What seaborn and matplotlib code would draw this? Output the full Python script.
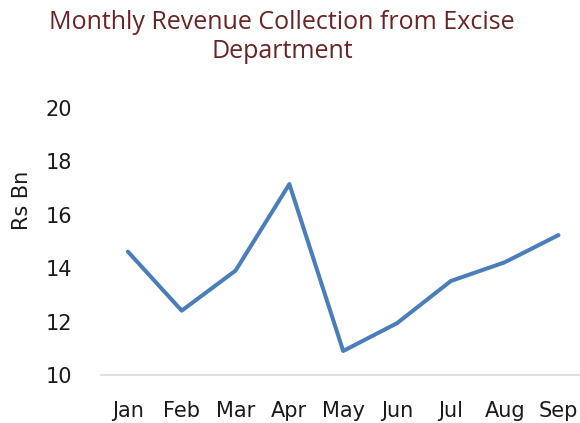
import matplotlib
matplotlib.use("Agg")
import matplotlib.pyplot as plt
import seaborn as sns
import pandas as pd

months = ["Jan", "Feb", "Mar", "Apr", "May", "Jun", "Jul", "Aug", "Sep"]
revenue = [14.62, 12.41, 13.91, 17.15, 10.90, 11.94, 13.52, 14.22, 15.24]
yticks = [10, 12, 14, 16, 18, 20]

sns.set_theme(style="white")
plt.rcParams["font.family"] = ["Open Sans", "DejaVu Sans"]
tick_font = ["DejaVu Sans"]

df = pd.DataFrame({"Month": months, "Revenue": revenue})
df["pos"] = range(len(months))

fig = plt.figure(figsize=(5.8, 4.23), dpi=100)
ax = fig.add_axes([101 / 580, 48 / 423, 479 / 580, 267 / 423])

sns.lineplot(data=df, x="pos", y="Revenue", ax=ax, color="#4a7ebb",
             linewidth=2.9, sort=False)

ax.set_xlim(-0.5, 8.4)
ax.set_ylim(10, 20)
ax.set_yticks(yticks)
ax.set_yticklabels([str(v) for v in yticks], family=tick_font, fontsize=15)
ax.set_xticks(df["pos"])
ax.set_xticklabels(months, family=tick_font, fontsize=15)
ax.tick_params(axis="x", length=0, pad=19, labelcolor="#1a1a1a")
ax.tick_params(axis="y", length=0, pad=21, labelcolor="#1a1a1a")
ax.set_xlabel("")
ax.set_ylabel("Rs Bn", fontsize=15, color="#1a1a1a", family=tick_font)
ax.yaxis.set_label_coords(-0.145, 0.655)

for s in ["top", "right", "left"]:
    ax.spines[s].set_visible(False)
ax.spines["bottom"].set_color("#d9d9d9")
ax.spines["bottom"].set_linewidth(1.2)
ax.grid(False)

fig.text(282 / 580, 1 - 37 / 423, "Monthly Revenue Collection from Excise\nDepartment",
         ha="center", va="center", fontsize=18, color="#6b2424", linespacing=1.25)

fig.savefig("out.png", dpi=100)
